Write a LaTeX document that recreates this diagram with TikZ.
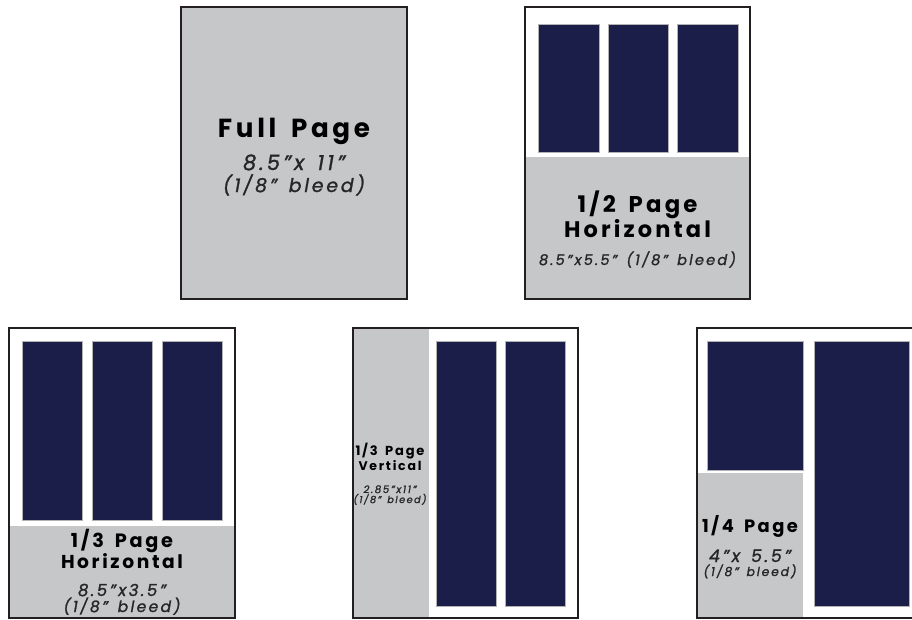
\documentclass[tikz,border=0pt]{standalone}
\usepackage{fontspec}
\usepackage{graphicx}
\newfontfamily\hb[LetterSpace=14,WordSpace=1.6]{Poppins}
\newfontfamily\hi[LetterSpace=15,WordSpace=1.4,FakeBold=1.2]{Poppins}
\definecolor{navy}{HTML}{1C1E4A}
\definecolor{pgray}{HTML}{C6C7C9}
\definecolor{edge}{HTML}{231F20}
\newcommand\tbold[2]{\resizebox{#1pt}{!}{\hb\bfseries\fontsize{20}{20}\selectfont #2}}
\newcommand\tital[2]{\resizebox{#1pt}{!}{\hi\itshape\fontsize{14}{14}\selectfont #2}}
\begin{document}
\begin{tikzpicture}[x=1pt,y=-1pt,
  frame/.style={draw=edge,line width=2.4pt},
  col/.style={fill=navy,draw=gray!60,line width=0.5pt},
  area/.style={fill=pgray},
  lbl/.style={anchor=base,inner sep=0pt,text=black},
  sub/.style={anchor=base,inner sep=0pt,text=black!85}]
\useasboundingbox (0,0) rectangle (912,619);
% Box 1: Full Page
\fill[area] (181,7) rectangle (407,299);
\draw[frame] (181,7) rectangle (407,299);
\node[lbl] (fp1) at (294,137) {\tbold{152}{Full Page}};
\node[sub] (fp2) at (294,170) {\tital{102}{8.5”x 11”}};
\node[sub] (fp3) at (294,192) {\tital{142}{(1/8” bleed)}};
% Box 2: 1/2 Page Horizontal
\fill[white] (525,7) rectangle (750,299);
\fill[area] (525,157) rectangle (750,299);
\draw[col] (538,24) rectangle (599,152);
\draw[col] (608,24) rectangle (668,152);
\draw[col] (677,24) rectangle (738,152);
\draw[frame] (525,7) rectangle (750,299);
\node[lbl] (hp1) at (637.5,212) {\tbold{120}{1/2 Page}};
\node[lbl] (hp2) at (637.5,237) {\tbold{147}{Horizontal}};
\node[sub] (hp3) at (637.5,265) {\tital{197}{8.5”x5.5” (1/8” bleed)}};
% Box 3: 1/3 Page Horizontal
\fill[white] (9,328) rectangle (235,618);
\fill[area] (9,526) rectangle (235,618);
\draw[col] (22,341) rectangle (82,520);
\draw[col] (92,341) rectangle (152,520);
\draw[col] (162,341) rectangle (222,520);
\draw[frame] (9,328) rectangle (235,618);
\node[lbl] (th1) at (122,547) {\tbold{102}{1/3 Page}};
\node[lbl] (th2) at (122,568) {\tbold{122}{Horizontal}};
\node[sub] (th3) at (122,596) {\tital{88}{8.5”x3.5”}};
\node[sub] (th4) at (122,612) {\tital{117}{(1/8” bleed)}};
% Box 4: 1/3 Page Vertical
\fill[white] (353,328) rectangle (578,618);
\fill[area] (353,328) rectangle (429,618);
\draw[col] (436,341) rectangle (496,606);
\draw[col] (505,341) rectangle (565,606);
\draw[frame] (353,328) rectangle (578,618);
\node[lbl] (tv1) at (390,455) {\tbold{69}{1/3 Page}};
\node[lbl] (tv2) at (390,470) {\tbold{63}{Vertical}};
\node[sub] (tv3) at (390,493) {\tital{53}{2.85”x11”}};
\node[sub] (tv4) at (390,503) {\tital{73}{(1/8” bleed)}};
% Box 5: 1/4 Page
\fill[white] (697,328) rectangle (923,618);
\fill[area] (697,473) rectangle (803,618);
\draw[col] (707,341) rectangle (803,470);
\draw[col] (814,341) rectangle (909,606);
\draw[frame] (697,328) rectangle (923,618);
\node[lbl] (qp1) at (750,532) {\tbold{96}{1/4 Page}};
\node[sub] (qp2) at (750,562) {\tital{82}{4”x 5.5”}};
\node[sub] (qp3) at (750,576) {\tital{93}{(1/8” bleed)}};
\end{tikzpicture}
\end{document}
